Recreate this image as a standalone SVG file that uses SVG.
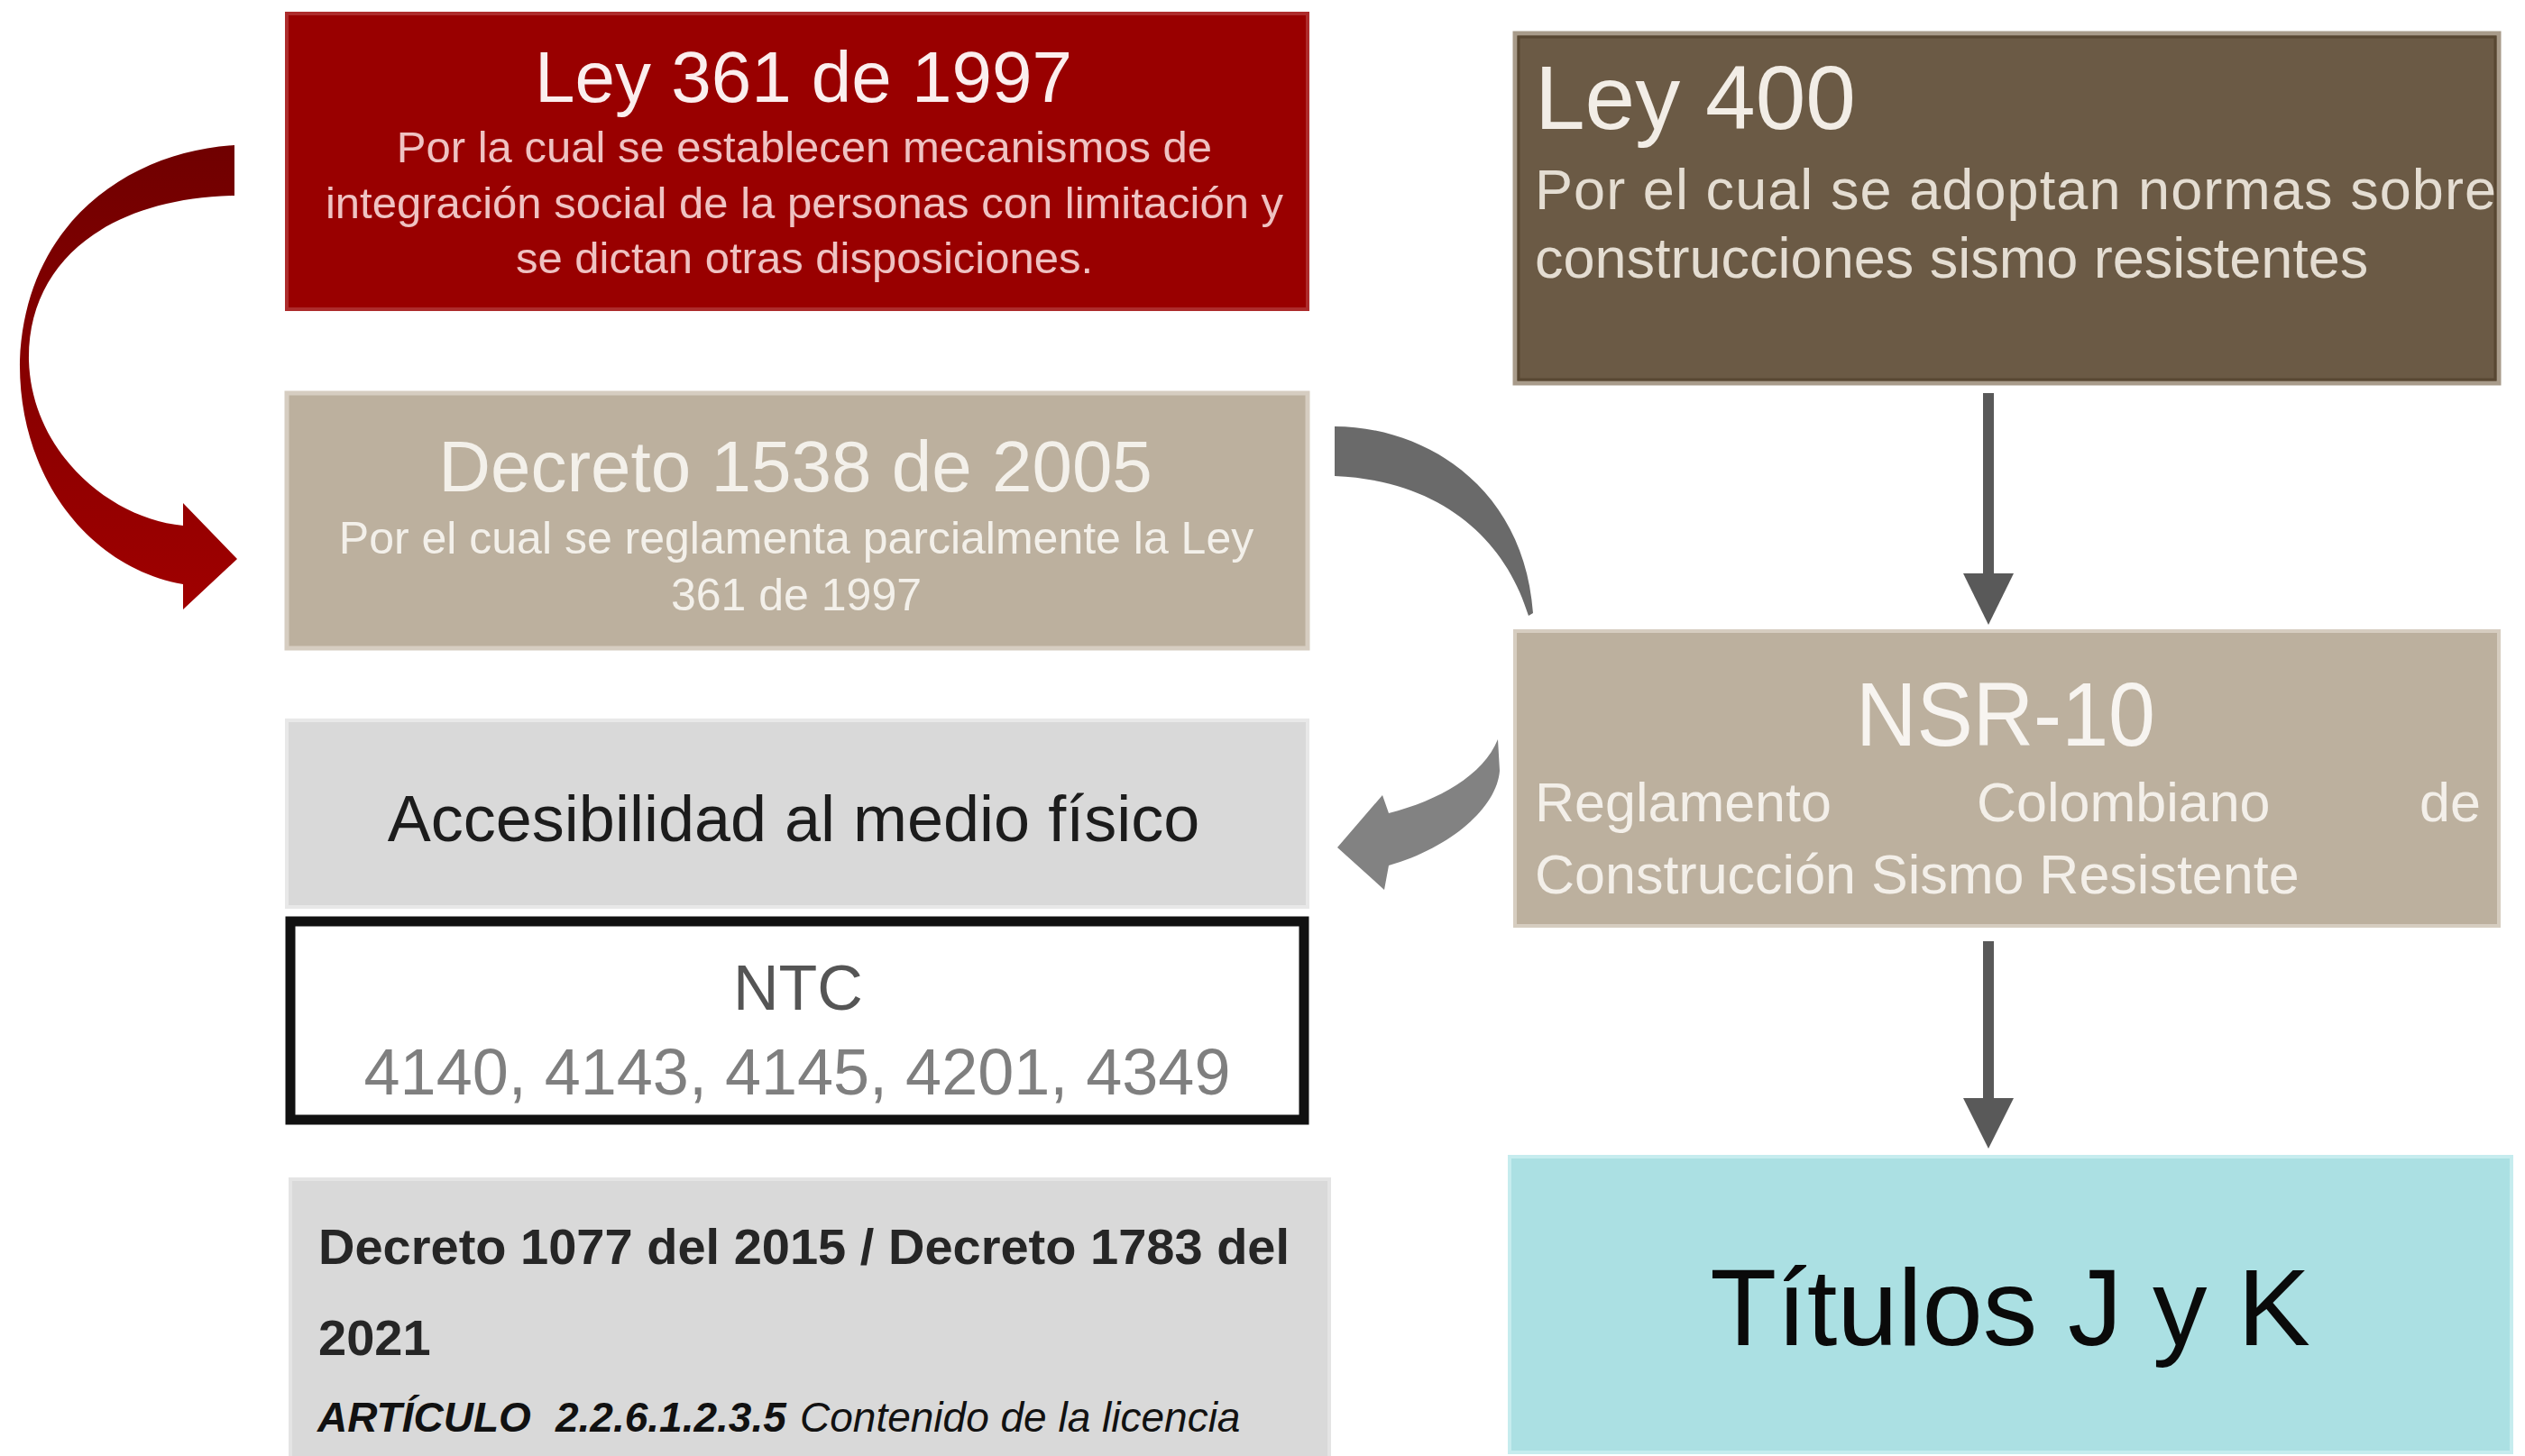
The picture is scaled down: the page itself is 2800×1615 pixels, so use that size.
<svg xmlns="http://www.w3.org/2000/svg" width="2800" height="1615" viewBox="0 0 2800 1615">
<defs>
<style>
.t{font-family:"Liberation Sans",Arial,sans-serif}
.c{text-anchor:middle}
</style>
<linearGradient id="redg" x1="0" y1="0" x2="0" y2="1">
<stop offset="0" stop-color="#700000"/>
<stop offset="1" stop-color="#a00000"/>
</linearGradient>
</defs>
<rect width="2800" height="1615" fill="#ffffff"/>

<g id="ley361">
<rect x="318" y="15" width="1132" height="328" fill="#990000" stroke="#ad2c2c" stroke-width="4"/>
<text class="t c" x="891" y="113" font-size="80" fill="#fbeeee">Ley 361 de 1997</text>
<text class="t c" x="892" y="180" font-size="49" fill="#efc2c2">Por la cual se establecen mecanismos de</text>
<text class="t c" x="892" y="242" font-size="49" fill="#efc2c2">integración social de la personas con limitación y</text>
<text class="t c" x="892" y="303" font-size="49" fill="#efc2c2">se dictan otras disposiciones.</text>
</g>

<g id="decreto1538">
<rect x="318" y="436" width="1132" height="283" fill="#bcb09e" stroke="#d6cdc1" stroke-width="5"/>
<text class="t c" x="882" y="545" font-size="80" fill="#f3f0ea">Decreto 1538 de 2005</text>
<text class="t c" x="883" y="614" font-size="50" fill="#f3f0ea">Por el cual se reglamenta parcialmente la Ley</text>
<text class="t c" x="883" y="677" font-size="50" fill="#f3f0ea">361 de 1997</text>
</g>

<g id="accesibilidad">
<rect x="318" y="799" width="1132" height="207" fill="#d9d9d9" stroke="#e8e8e8" stroke-width="4"/>
<text class="t c" x="880" y="933" font-size="72" fill="#1c1c1c">Accesibilidad al medio físico</text>
</g>

<g id="ntc">
<rect x="322" y="1022" width="1124" height="220" fill="#ffffff" stroke="#111111" stroke-width="11"/>
<text class="t c" x="885" y="1120" font-size="70" fill="#555555">NTC</text>
<text class="t c" x="884" y="1214" font-size="72" fill="#7f7f7f">4140, 4143, 4145, 4201, 4349</text>
</g>

<g id="decreto1077">
<rect x="322" y="1308" width="1152" height="320" fill="#d9d9d9" stroke="#e4e4e4" stroke-width="4"/>
<text class="t" x="353" y="1402" font-size="56" font-weight="bold" fill="#262626">Decreto 1077 del 2015 / Decreto 1783 del</text>
<text class="t" x="353" y="1503" font-size="56" font-weight="bold" fill="#262626">2021</text>
<text class="t" x="352" y="1588" font-size="46" font-style="italic" fill="#111111"><tspan font-weight="bold">ARTÍCULO</tspan><tspan x="616" font-weight="bold">2.2.6.1.2.3.5</tspan><tspan x="887">Contenido de la licencia</tspan></text>
</g>

<g id="ley400">
<rect x="1680" y="37" width="1091" height="388" fill="#6b5a45" stroke="#a89b8a" stroke-width="5"/>
<rect x="1684" y="41" width="1083" height="380" fill="none" stroke="#584732" stroke-width="3"/>
<text class="t" x="1702" y="143" font-size="100" fill="#f2ede6">Ley 400</text>
<text class="t" x="1702" y="232" font-size="63" fill="#e4ddd2" textLength="1066" lengthAdjust="spacing">Por el cual se adoptan normas sobre</text>
<text class="t" x="1702" y="308" font-size="63" fill="#e4ddd2">construcciones sismo resistentes</text>
</g>

<g id="nsr10">
<rect x="1680" y="700" width="1091" height="327" fill="#bcb09e" stroke="#d6cdc0" stroke-width="4"/>
<text class="t c" x="2224" y="827" font-size="100" fill="#f7f4f0" textLength="332" lengthAdjust="spacingAndGlyphs">NSR-10</text>
<text class="t" y="911" font-size="61" fill="#f3efe9"><tspan x="1702">Reglamento</tspan><tspan x="2192">Colombiano</tspan><tspan x="2683">de</tspan></text>
<text class="t" x="1702" y="991" font-size="61" fill="#f3efe9">Construcción Sismo Resistente</text>
</g>

<g id="titulos">
<rect x="1674" y="1283" width="1111" height="328" fill="#abe0e3" stroke="#c6ecee" stroke-width="4"/>
<text class="t c" x="2229" y="1492" font-size="121" fill="#0a0a0a">Títulos J y K</text>
</g>

<g id="connectors">
<path d="M 260 161 C 145 168, 28 245, 22 400 C 20 530, 100 630, 203 648 L 203 676 L 263 620 L 203 558 L 203 583 C 120 575, 35 500, 32 400 C 30 290, 120 220, 260 217 Z" fill="url(#redg)"/>
<path d="M 1480 473 C 1580 473, 1690 540, 1700 680 L 1695 683 C 1670 600, 1600 533, 1480 528 Z" fill="#6a6a6a"/>
<path d="M 1661 820 C 1645 860, 1595 888, 1540 902 L 1533 882 L 1483 940 L 1535 987 L 1540 960 C 1610 940, 1660 895, 1663 855 Z" fill="#828282"/>
<line x1="2205" y1="436" x2="2205" y2="640" stroke="#595959" stroke-width="12"/>
<path d="M 2177 636 L 2233 636 L 2205 693 Z" fill="#595959"/>
<line x1="2205" y1="1044" x2="2205" y2="1222" stroke="#595959" stroke-width="12"/>
<path d="M 2177 1218 L 2233 1218 L 2205 1274 Z" fill="#595959"/>
</g>
</svg>
